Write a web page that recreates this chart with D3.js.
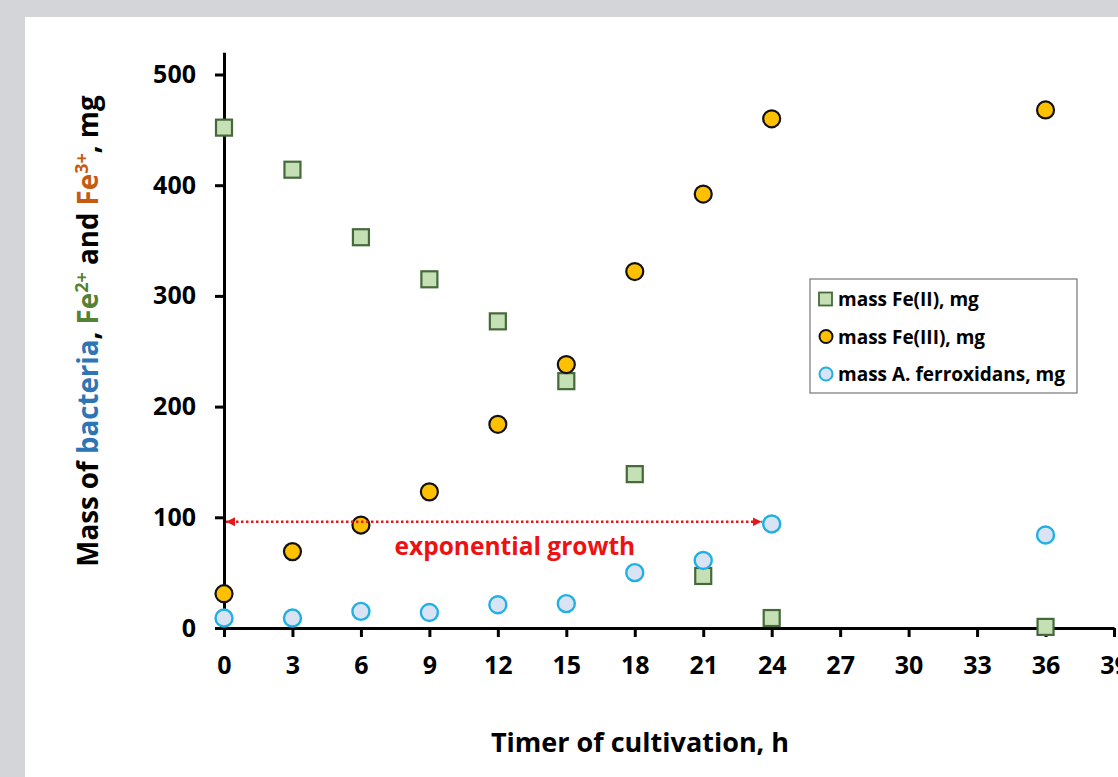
<!DOCTYPE html>
<html>
<head>
<meta charset="utf-8">
<script src="https://cdn.jsdelivr.net/npm/d3@7"></script>
<style>
  html, body { margin: 0; padding: 0; background: #d4d5d9; }
  svg { display: block; }
  text { font-family: "Open Sans", "DejaVu Sans", sans-serif; font-weight: 700; }
</style>
</head>
<body>
<svg id="chart" width="1118" height="777"></svg>
<script>
// ---- data ----
const xTickValues = [0, 3, 6, 9, 12, 15, 18, 21, 24, 27, 30, 33, 36, 39];
const yTickValues = [0, 100, 200, 300, 400, 500];
const hours      = [0, 3, 6, 9, 12, 15, 18, 21, 24, 36];
const massFeII   = [452, 414, 353, 315, 277, 223, 139, 47, 9, 1];
const massFeIII  = [31, 69, 93, 123, 184, 238, 322, 392, 460, 468];
const massBact   = [9, 9, 15, 14, 21, 22, 50, 61, 94, 84];
const seriesNames = ["mass Fe(II), mg", "mass Fe(III), mg", "mass A. ferroxidans, mg"];
const growthSpan = [0, 24];
const growthLevel = 96;
const growthLabel = "exponential growth";
const xTitle = "Timer of cultivation, h";

// ---- layout ----
const svg = d3.select("#chart");
svg.append("rect").attr("x", 0).attr("y", 0).attr("width", 1118).attr("height", 777).attr("fill", "#d4d5d9");
svg.append("rect").attr("x", 25).attr("y", 17).attr("width", 1093).attr("height", 760).attr("fill", "#ffffff");

const x = d3.scaleLinear().domain([0, 39]).range([224, 1114]);
const y = d3.scaleLinear().domain([0, 520]).range([628, 628 - 520 * 1.107]);

const colFeII = { fill: "#c5e0b4", stroke: "#46693a" };
const colFeIII = { fill: "#ffc000", stroke: "#111111" };
const colBact = { fill: "#dae3f3", stroke: "#1fb0e4" };

// axes
const yAxis = d3.axisLeft(y).tickValues(yTickValues).tickSize(9).tickSizeOuter(0).tickPadding(19);
const xAxis = d3.axisBottom(x).tickValues(xTickValues).tickSize(9).tickSizeOuter(0).tickPadding(19);

const gy = svg.append("g").attr("transform", `translate(${x(0)},0)`).call(yAxis);
const gx = svg.append("g").attr("transform", `translate(0,${y(0)})`).call(xAxis);
[gx, gy].forEach(g => {
  g.select(".domain").attr("stroke", "#000").attr("stroke-width", 3);
  g.selectAll(".tick line").attr("stroke", "#000").attr("stroke-width", 3);
  g.selectAll(".tick text").attr("fill", "#000").style("font-size", "25px")
    .style("font-family", '"Open Sans", sans-serif').style("font-weight", 700);
});

// data
const rows = hours.map((h, i) => ({ h, feII: massFeII[i], feIII: massFeIII[i], bact: massBact[i] }));
const sq = 16;
svg.append("g").selectAll("rect").data(rows).join("rect")
  .attr("x", d => x(d.h) - sq / 2).attr("y", d => y(d.feII) - sq / 2)
  .attr("width", sq).attr("height", sq)
  .attr("fill", colFeII.fill).attr("stroke", colFeII.stroke).attr("stroke-width", 2.2);
svg.append("g").selectAll("circle").data(rows).join("circle")
  .attr("cx", d => x(d.h)).attr("cy", d => y(d.feIII)).attr("r", 8.5)
  .attr("fill", colFeIII.fill).attr("stroke", colFeIII.stroke).attr("stroke-width", 2.2);
svg.append("g").selectAll("circle").data(rows).join("circle")
  .attr("cx", d => x(d.h)).attr("cy", d => y(d.bact)).attr("r", 8.5)
  .attr("fill", colBact.fill).attr("stroke", colBact.stroke).attr("stroke-width", 2.4);

// growth arrow
const defs = svg.append("defs");
["start", "end"].forEach(k => {
  defs.append("marker").attr("id", "arr-" + k)
    .attr("viewBox", "0 0 10 10").attr("refX", k === "end" ? 10 : 0).attr("refY", 5)
    .attr("markerWidth", 9).attr("markerHeight", 9).attr("markerUnits", "userSpaceOnUse")
    .attr("orient", "auto")
    .append("path")
    .attr("d", k === "end" ? "M0,0 L10,5 L0,10 Z" : "M10,0 L0,5 L10,10 Z")
    .attr("fill", "#e41a1a");
});
svg.append("line")
  .attr("x1", x(growthSpan[0]) + 2).attr("x2", x(growthSpan[1]) - 10)
  .attr("y1", y(growthLevel)).attr("y2", y(growthLevel))
  .attr("stroke", "#e41a1a").attr("stroke-width", 2.5).attr("stroke-dasharray", "2.5,2.5")
  .attr("marker-start", "url(#arr-start)").attr("marker-end", "url(#arr-end)");
svg.append("text").attr("x", (x(growthSpan[0]) + x(growthSpan[1])) / 2 + 17).attr("y", y(growthLevel) + 33)
  .attr("text-anchor", "middle").attr("fill", "#ee1111").style("font-size", "24.5px").text(growthLabel);

// legend
const lg = svg.append("g");
lg.append("rect").attr("x", 810).attr("y", 279).attr("width", 267).attr("height", 114)
  .attr("fill", "#fff").attr("stroke", "#777").attr("stroke-width", 1.2);
const legRows = [
  { name: seriesNames[0], type: "sq", c: colFeII },
  { name: seriesNames[1], type: "ci", c: colFeIII },
  { name: seriesNames[2], type: "ci", c: colBact }
];
legRows.forEach((r, i) => {
  const cy = 299 + i * 37.5;
  if (r.type === "sq") {
    lg.append("rect").attr("x", 819).attr("y", cy - 6.5).attr("width", 13).attr("height", 13)
      .attr("fill", r.c.fill).attr("stroke", r.c.stroke).attr("stroke-width", 1.8);
  } else {
    lg.append("circle").attr("cx", 826).attr("cy", cy).attr("r", 6.5)
      .attr("fill", r.c.fill).attr("stroke", r.c.stroke).attr("stroke-width", 2);
  }
  lg.append("text").attr("x", 838).attr("y", cy + 7).attr("fill", "#000").style("font-size", "19px").text(r.name);
});

// axis titles
svg.append("text").attr("x", 640).attr("y", 752).attr("text-anchor", "middle")
  .attr("fill", "#000").style("font-size", "27px").text(xTitle);

const yt = svg.append("text").attr("transform", "translate(98,331) rotate(-90)")
  .attr("text-anchor", "middle").attr("fill", "#000").style("font-size", "27.7px");
const parts = [
  { t: "Mass of ", c: "#000" },
  { t: "bacteria", c: "#2e75b6" },
  { t: ", ", c: "#000" },
  { t: "Fe", c: "#548235" },
  { t: "2+", c: "#548235", sup: true },
  { t: " and ", c: "#000" },
  { t: "Fe", c: "#c55a11" },
  { t: "3+", c: "#c55a11", sup: true },
  { t: ", mg", c: "#000" }
];
let prevSup = false;
parts.forEach(p => {
  const ts = yt.append("tspan").attr("fill", p.c).text(p.t);
  if (p.sup) { ts.attr("dy", -10).style("font-size", "18px"); prevSup = true; }
  else if (prevSup) { ts.attr("dy", 10); prevSup = false; }
});
</script>
</body>
</html>
